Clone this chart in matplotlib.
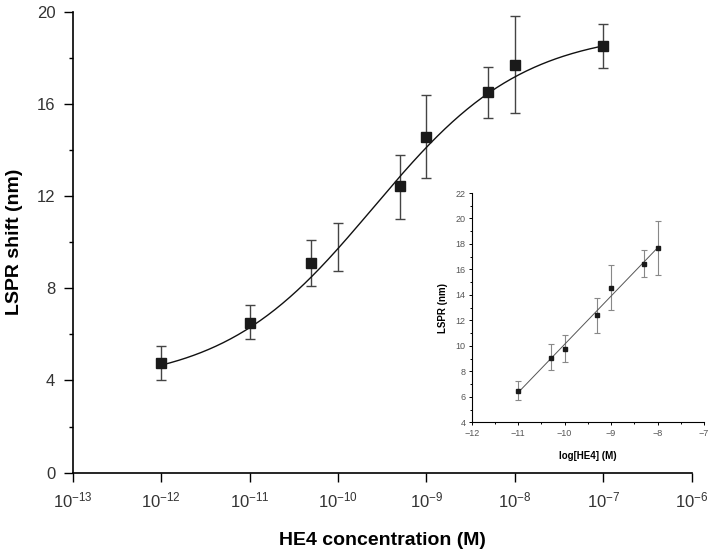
import matplotlib
matplotlib.use('Agg')
import matplotlib.pyplot as plt
from matplotlib.ticker import MultipleLocator, LogLocator, NullLocator
import numpy as np

plt.rcParams['font.family'] = ['Liberation Sans', 'DejaVu Sans']
plt.rcParams['mathtext.default'] = 'regular'

# main chart: LSPR shift vs HE4 concentration
conc = np.array([1e-12, 1e-11, 5e-11, 1e-10, 5e-10, 1e-9, 5e-9, 1e-8, 1e-7])
shift = np.array([4.77, 6.50, 9.10, 9.75, 12.45, 14.58, 16.50, 17.68, 18.50])
err_lo = np.array([4.02, 5.78, 8.11, 8.73, 11.00, 12.80, 15.40, 15.60, 17.57])
err_hi = np.array([5.51, 7.26, 10.10, 10.83, 13.80, 16.36, 17.60, 19.80, 19.45])
show_marker = np.array([1, 1, 1, 0, 1, 1, 1, 1, 1], dtype=bool)

# sigmoid fit (Boltzmann in log10 conc), parameters
A1, A2, X0, DX = 3.8, 19.2, -9.6, 0.85

# inset: linear range
log_conc = np.array([-11, -10.3, -10, -9.3, -9, -8.3, -8])
lspr = np.array([6.46, 9.07, 9.76, 12.42, 14.56, 16.45, 17.66])
in_lo = np.array([5.79, 8.13, 8.71, 10.98, 12.81, 15.38, 15.60])
in_hi = np.array([7.21, 10.11, 10.83, 13.78, 16.34, 17.56, 19.80])

fig = plt.figure(figsize=(7.14, 5.57), dpi=100)
ax = fig.add_axes([0.1018, 0.1513, 0.867, 0.828])

ax.errorbar(conc, shift, yerr=[shift - err_lo, err_hi - shift], fmt='none',
            ecolor='#444444', elinewidth=1.0, capsize=3.6, capthick=1.0, zorder=2)
ax.plot(conc[show_marker], shift[show_marker], 's', color='#1a1a1a', ms=6.5, zorder=4)

xs = np.linspace(np.log10(conc[0]), np.log10(conc[-1]), 300)
ax.plot(10 ** xs, A2 + (A1 - A2) / (1 + np.exp((xs - X0) / DX)), color='#111111', lw=1.0, zorder=3)

ax.set_xscale('log')
ax.set_xlim(1e-13, 1e-6)
ax.set_ylim(0, 20)
ax.xaxis.set_major_locator(LogLocator(base=10, numticks=10))
ax.xaxis.set_minor_locator(NullLocator())
ax.yaxis.set_major_locator(MultipleLocator(4))
ax.yaxis.set_minor_locator(MultipleLocator(2))
for s in ['top', 'right']:
    ax.spines[s].set_visible(False)
for s in ['left', 'bottom']:
    ax.spines[s].set_linewidth(1.2)
ax.tick_params(which='major', direction='out', length=6.5, width=1.0, labelsize=12, labelcolor='#333333', pad=6)
ax.tick_params(which='minor', direction='out', length=3.2, width=1.0)
ax.set_xlabel('HE4 concentration (M)', fontsize=14, fontweight='bold', labelpad=16)
ax.set_ylabel('LSPR shift (nm)', fontsize=14, fontweight='bold', labelpad=10)

# inset
ins = fig.add_axes([0.6606, 0.2418, 0.3254, 0.4117])
ins.errorbar(log_conc, lspr, yerr=[lspr - in_lo, in_hi - lspr], fmt='none',
             ecolor='#888888', elinewidth=0.8, capsize=2.0, capthick=0.8, zorder=2)
ins.plot(log_conc, lspr, 's', color='#1a1a1a', ms=2.6, zorder=4)
k, b = np.polyfit(log_conc, lspr, 1)
lx = np.array([log_conc[0], log_conc[-1]])
ins.plot(lx, k * lx + b, color='#555555', lw=0.7, zorder=3)
ins.set_xlim(-12, -7)
ins.set_ylim(4, 22)
ins.xaxis.set_major_locator(MultipleLocator(1))
ins.xaxis.set_minor_locator(MultipleLocator(0.5))
ins.yaxis.set_major_locator(MultipleLocator(2))
ins.yaxis.set_minor_locator(MultipleLocator(1))
ins.patch.set_alpha(0)
for s in ['top', 'right']:
    ins.spines[s].set_visible(False)
for s in ['left', 'bottom']:
    ins.spines[s].set_linewidth(0.8)
ins.tick_params(which='major', direction='out', length=2.5, width=0.7, labelsize=6.5, labelcolor='#555555', pad=2)
ins.tick_params(which='minor', direction='out', length=1.5, width=0.7)
ins.set_xlabel('log[HE4] (M)', fontsize=7, fontweight='bold', labelpad=10)
ins.set_ylabel('LSPR (nm)', fontsize=7, fontweight='bold', labelpad=5)

fig.savefig('out.png', dpi=100)
